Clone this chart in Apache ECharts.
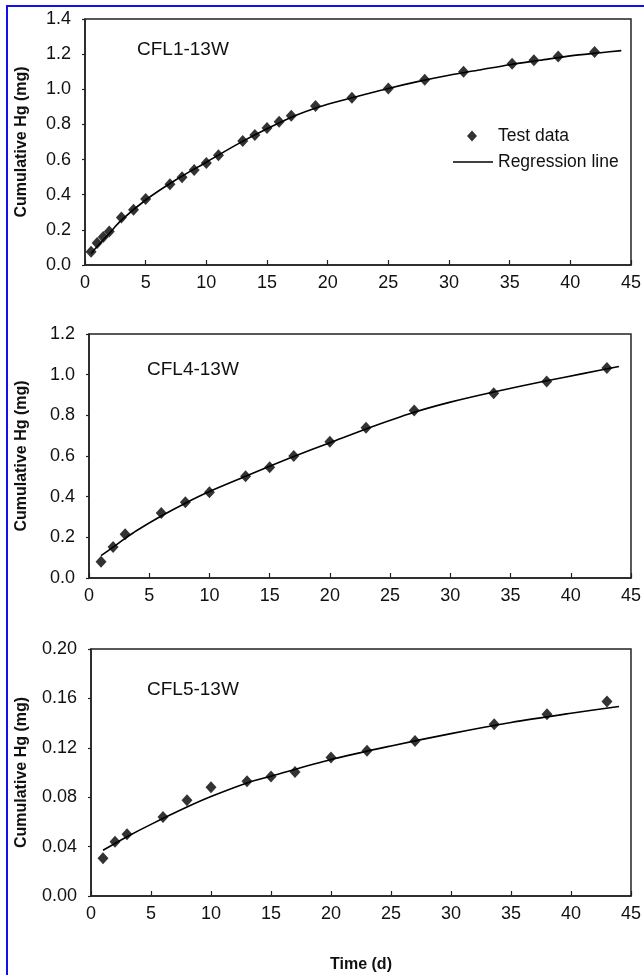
<!DOCTYPE html>
<html>
<head>
<meta charset="utf-8">
<script src="https://cdn.jsdelivr.net/npm/echarts@6/dist/echarts.min.js"></script>
<style>
  html, body { margin: 0; padding: 0; background: #fff; }
  #hgChart { width: 644px; height: 975px; }
</style>
</head>
<body>
<div id="hgChart"></div>
<script>
// panel labels
var panelNames = ["CFL1-13W", "CFL4-13W", "CFL5-13W"];

// CFL1-13W test data
var days1 = [0.5, 1, 1.5, 2, 3, 4, 5, 7, 8, 9, 10, 11, 13, 14, 15, 16, 17, 19, 22, 25, 28, 31.2, 35.2, 37, 39, 42];
var hg1 = [0.075, 0.125, 0.16, 0.19, 0.27, 0.315, 0.375, 0.46, 0.5, 0.54, 0.58, 0.625, 0.705, 0.74, 0.78, 0.815, 0.85, 0.905, 0.952, 1.005, 1.054, 1.1, 1.145, 1.165, 1.187, 1.212];
// CFL1-13W regression line
var fitX1 = [0.5, 1, 2, 3, 5, 7.5, 10, 12.5, 15, 17.5, 20, 22.5, 25, 27.5, 30, 32.5, 35, 37.5, 40, 42.5, 44.2];
var fitY1 = [0.065, 0.105, 0.18, 0.255, 0.37, 0.485, 0.585, 0.685, 0.775, 0.855, 0.915, 0.96, 1.005, 1.045, 1.08, 1.11, 1.14, 1.165, 1.19, 1.208, 1.22];

// CFL4-13W
var days2 = [1, 2, 3, 6, 8, 10, 13, 15, 17, 20, 23, 27, 33.6, 38, 43];
var hg2 = [0.08, 0.152, 0.215, 0.32, 0.373, 0.422, 0.501, 0.545, 0.6, 0.67, 0.739, 0.824, 0.908, 0.967, 1.033];
var fitX2 = [1, 2, 3, 4, 6, 8, 10, 13, 15, 17, 20, 23, 27, 30, 33.6, 38, 41, 44];
var fitY2 = [0.11, 0.152, 0.195, 0.235, 0.305, 0.368, 0.425, 0.5, 0.55, 0.598, 0.665, 0.733, 0.815, 0.865, 0.915, 0.97, 1.005, 1.04];

// CFL5-13W
var days3 = [1, 2, 3, 6, 8, 10, 13, 15, 17, 20, 23, 27, 33.6, 38, 43];
var hg3 = [0.0305, 0.044, 0.05, 0.064, 0.0775, 0.088, 0.093, 0.0968, 0.1005, 0.1122, 0.1176, 0.1255, 0.139, 0.1472, 0.1575];
var fitX3 = [1, 3, 5, 8, 10, 13, 15, 20, 25, 30, 35, 40, 44];
var fitY3 = [0.037, 0.048, 0.058, 0.072, 0.0805, 0.0915, 0.097, 0.1105, 0.1215, 0.1315, 0.1405, 0.148, 0.1535];

// axis ranges
var yMax = [1.4, 1.2, 0.2];
var yStep = [0.2, 0.2, 0.04];
var yDigits = [1, 1, 2];

var FONT = "'Liberation Sans', Arial, sans-serif";
var INK = "#111";

function pairs(xs, ys) {
  var out = [];
  for (var i = 0; i < xs.length; i++) out.push([xs[i], ys[i]]);
  return out;
}

var grids = [
  { left: 85, top: 19, width: 549, height: 246 },
  { left: 89, top: 334, width: 547, height: 244 },
  { left: 91, top: 649, width: 545, height: 247 }
];
var yNameGap = [55, 59, 61];

var xAxes = [], yAxes = [];
for (var g = 0; g < 3; g++) {
  grids[g].show = true;
  grids[g].borderColor = "#222";
  grids[g].borderWidth = 1.5;
  grids[g].backgroundColor = "transparent";
  xAxes.push({
    type: "value",
    gridIndex: g,
    min: 0,
    max: 45,
    interval: 5,
    name: g === 2 ? "Time (d)" : "",
    nameLocation: "middle",
    nameGap: 61,
    nameTextStyle: { fontFamily: FONT, fontSize: 16, fontWeight: "bold", color: INK },
    axisLine: { onZero: false, lineStyle: { color: "#222", width: 1.5 } },
    axisTick: { inside: true, length: 5, lineStyle: { color: "#222", width: 1.2 } },
    axisLabel: { margin: 9, fontFamily: FONT, fontSize: 18, color: INK, showMaxLabel: true },
    splitLine: { show: false }
  });
  (function (d) {
    yAxes.push({
      type: "value",
      gridIndex: g,
      min: 0,
      max: yMax[g],
      interval: yStep[g],
      name: "Cumulative Hg (mg)",
      nameLocation: "middle",
      nameRotate: 90,
      nameGap: yNameGap[g],
      nameTextStyle: { fontFamily: FONT, fontSize: 16, fontWeight: "bold", color: INK },
      axisLine: { lineStyle: { color: "#222", width: 1.5 } },
      axisTick: { inside: false, length: 3, lineStyle: { color: "#222", width: 1.2 } },
      axisLabel: {
        margin: 14, fontFamily: FONT, fontSize: 18, color: INK,
        formatter: function (v) { return v.toFixed(d); }
      },
      splitLine: { show: false }
    });
  })(yDigits[g]);
}

var testSets = [pairs(days1, hg1), pairs(days2, hg2), pairs(days3, hg3)];
var fitSets = [pairs(fitX1, fitY1), pairs(fitX2, fitY2), pairs(fitX3, fitY3)];

var series = [];
for (var k = 0; k < 3; k++) {
  series.push({
    name: "Regression line",
    type: "line",
    xAxisIndex: k,
    yAxisIndex: k,
    smooth: 0.3,
    symbol: "none",
    lineStyle: { color: "#000", width: 1.6 },
    itemStyle: { color: "#000" },
    z: 2,
    data: fitSets[k]
  });
  series.push({
    name: "Test data",
    type: "scatter",
    xAxisIndex: k,
    yAxisIndex: k,
    symbol: "diamond",
    symbolSize: [11, 12],
    itemStyle: { color: "#000" },
    z: 3,
    data: testSets[k]
  });
}

var labelPos = [
  { x: 137, y: 50 },
  { x: 147, y: 370 },
  { x: 147, y: 690 }
];
var graphics = [{
  type: "rect",
  shape: { x: 7, y: 6, width: 700, height: 1000 },
  style: { fill: "none", stroke: "#1010f0", lineWidth: 2 },
  silent: true
}];
for (var p = 0; p < 3; p++) {
  graphics.push({
    type: "text",
    x: labelPos[p].x,
    y: labelPos[p].y,
    style: {
      text: panelNames[p],
      font: "19px " + FONT,
      fill: INK,
      verticalAlign: "middle"
    }
  });
}

var legendText = { fontFamily: FONT, fontSize: 17.5, color: INK };

var myChart = echarts.init(document.getElementById("hgChart"), null, { renderer: "canvas" });
myChart.setOption({
  animation: false,
  backgroundColor: "#fff",
  grid: grids,
  xAxis: xAxes,
  yAxis: yAxes,
  legend: [
    {
      left: 467,
      top: 127,
      padding: 0,
      itemWidth: 10,
      itemHeight: 11,
      selectedMode: false,
      textStyle: { fontFamily: FONT, fontSize: 17.5, color: INK, padding: [0, 0, 0, 16] },
      data: [{ name: "Test data", icon: "diamond" }]
    },
    {
      left: 453,
      top: 153,
      padding: 0,
      itemWidth: 40,
      itemHeight: 1.6,
      selectedMode: false,
      textStyle: legendText,
      data: [{ name: "Regression line", icon: "rect" }]
    }
  ],
  graphic: graphics,
  series: series
});
</script>
</body>
</html>
